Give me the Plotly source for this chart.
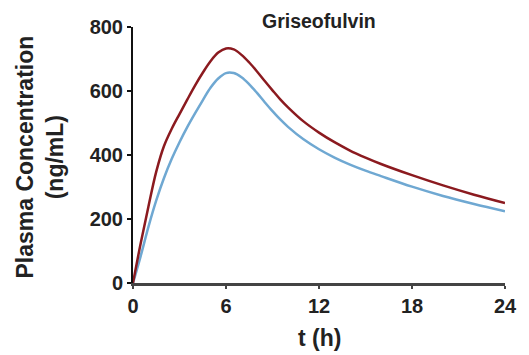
import plotly.graph_objects as go

t_red = [0, 0.5, 1, 1.5, 2, 2.5, 3, 3.5, 4, 4.5, 5, 5.5, 6, 6.5, 7, 7.5, 8, 8.5, 9, 9.5, 10, 11, 12, 13, 14, 15, 16, 18, 20, 22, 24]
c_red = [0, 125, 240, 348, 428, 482, 528, 573, 617, 657, 693, 720, 733, 730, 713, 689, 661, 631, 602, 574, 549, 505, 470, 440, 414, 392, 372, 337, 305, 276, 250]

t_blue = [0, 0.5, 1, 1.5, 2, 2.5, 3, 3.5, 4, 4.5, 5, 5.5, 6, 6.5, 7, 7.5, 8, 8.5, 9, 9.5, 10, 11, 12, 13, 14, 15, 16, 18, 20, 22, 24]
c_blue = [0, 85, 176, 258, 328, 388, 440, 487, 530, 571, 610, 639, 656, 656, 643, 621, 594, 565, 537, 511, 488, 449, 418, 392, 370, 351, 334, 301, 272, 247, 224]

x_ticks = [0, 6, 12, 18, 24]
y_ticks = [0, 200, 400, 600, 800]

title_text = "Griseofulvin"
x_title = "t (h)"
y_title = "Plasma Concentration<br>(ng/mL)"

FONT = "Liberation Sans, Arial, sans-serif"

fig = go.Figure()
fig.add_trace(go.Scatter(x=t_blue, y=c_blue, mode="lines",
                         line=dict(color="#6fa8d2", width=2.5, shape="spline", smoothing=1.0), showlegend=False))
fig.add_trace(go.Scatter(x=t_red, y=c_red, mode="lines",
                         line=dict(color="#8b1a1f", width=2.5, shape="spline", smoothing=1.0), showlegend=False))

fig.update_layout(
    width=529, height=355,
    margin=dict(l=133, r=12, t=27, b=72),
    paper_bgcolor="white", plot_bgcolor="white",
    font=dict(family=FONT, color="#222222"),
    xaxis=dict(range=[0, 24], tickvals=x_ticks, ticktext=[str(v) for v in x_ticks],
               showgrid=False, zeroline=False, showline=True, linecolor="#444444", linewidth=2.5,
               ticks="outside", ticklen=3, tickwidth=2, tickcolor="#444444",
               tickfont=dict(size=20, family=FONT, color="#222222", weight="bold")),
    yaxis=dict(range=[0, 800], tickvals=y_ticks, ticktext=[str(v) for v in y_ticks],
               showgrid=False, zeroline=False, showline=True, linecolor="#111111", linewidth=2,
               ticks="outside", ticklen=4, tickwidth=1.5, tickcolor="#111111",
               tickfont=dict(size=20, family=FONT, color="#222222", weight="bold")),
    annotations=[
        dict(text="<b>" + title_text + "</b>", xref="paper", yref="paper", x=0.5, y=1.023,
             xanchor="center", yanchor="middle", showarrow=False, font=dict(size=19.5, family=FONT, color="#222222")),
        dict(text="<b>" + x_title + "</b>", xref="paper", yref="paper", x=0.5, y=-0.215,
             xanchor="center", yanchor="middle", showarrow=False, font=dict(size=23, family=FONT, color="#222222")),
        dict(text="<b>" + y_title + "</b>", xref="paper", yref="paper", x=-0.25, y=0.49,
             xanchor="center", yanchor="middle", textangle=-90, showarrow=False,
             font=dict(size=23, family=FONT, color="#222222")),
    ],
)

fig.write_html("out.html")
